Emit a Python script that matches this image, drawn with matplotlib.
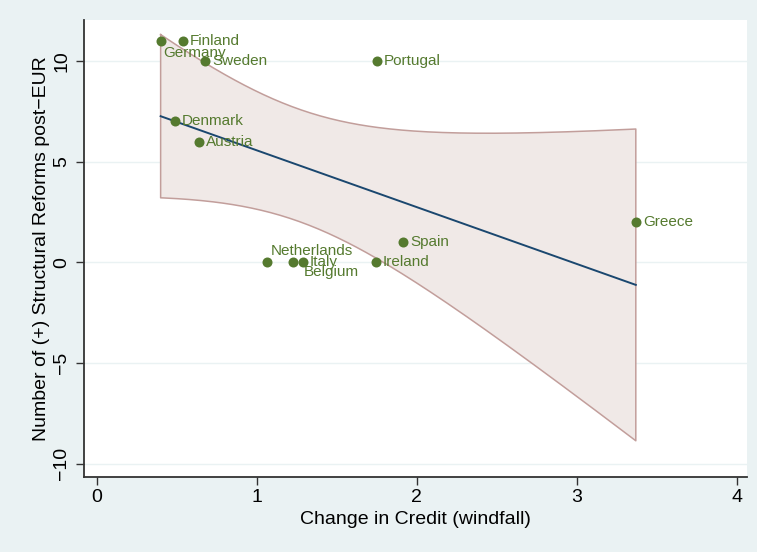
import numpy as np
import matplotlib
matplotlib.use('Agg')
import matplotlib.pyplot as plt

# countries, change in credit (windfall) and number of structural reforms post-EUR
countries = ['Germany', 'Finland', 'Sweden', 'Portugal', 'Denmark', 'Austria',
             'Greece', 'Spain', 'Netherlands', 'Belgium', 'Italy', 'Ireland']
credit = np.array([0.40, 0.54, 0.68, 1.75, 0.49, 0.64,
                   3.37, 1.915, 1.065, 1.23, 1.29, 1.745])
reforms = np.array([11, 11, 10, 10, 7, 6, 2, 1, 0, 0, 0, 0])

x_ticks = [0, 1, 2, 3, 4]
y_ticks = [-10, -5, 0, 5, 10]

# where each label sits relative to its marker (clock position, 3 = right)
label_pos = {'Germany': 4, 'Netherlands': 1, 'Belgium': 5}

bg = '#EAF2F3'
green = '#557A2F'
navy = '#1A476F'
band_fill = '#F0E9E7'
band_edge = '#C29E9B'
axis_font = ['Liberation Sans Narrow', 'Liberation Sans', 'DejaVu Sans']
label_font = ['Liberation Sans', 'DejaVu Sans']

# linear fit with 95% CI of the prediction (like Stata's lfitci)
n = len(credit)
mx = credit.mean()
sxx = ((credit - mx) ** 2).sum()
slope = ((credit - mx) * (reforms - reforms.mean())).sum() / sxx
icpt = reforms.mean() - slope * mx
resid = reforms - (icpt + slope * credit)
s = np.sqrt((resid ** 2).sum() / (n - 2))
t_crit = 2.228  # t(0.975, df=10)
xf = np.linspace(credit.min(), credit.max(), 200)
yf = icpt + slope * xf
half = t_crit * s * np.sqrt(1.0 / n + (xf - mx) ** 2 / sxx)

fig = plt.figure(figsize=(7.57, 5.52), dpi=100, facecolor=bg)
ax = fig.add_axes([84 / 757, 1 - 477 / 552, (747 - 84) / 757, (477 - 20) / 552])
ax.set_facecolor('white')

ax.set_xlim(-0.079, 4.065)
ax.set_ylim(-10.67, 12.04)

for yt in y_ticks:
    ax.axhline(yt, color=bg, lw=1.0, zorder=0)

ax.fill_between(xf, yf - half, yf + half, facecolor=band_fill, edgecolor='none', zorder=1)
band_x = np.concatenate([xf, xf[::-1], xf[:1]])
band_y = np.concatenate([yf + half, (yf - half)[::-1], (yf + half)[:1]])
ax.plot(band_x, band_y, color=band_edge, lw=1.1, zorder=2)
ax.plot(xf, yf, color=navy, lw=1.4, zorder=3)

ax.scatter(credit, reforms, s=52, color=green, zorder=4, linewidths=0)

offsets = {3: (7, 0, 'left', 'center'),
           4: (3, -12, 'left', 'center'),
           5: (10, -10, 'left', 'center'),
           1: (4, 11, 'left', 'center')}
for name, xv, yv in zip(countries, credit, reforms):
    dx, dy, ha, va = offsets[label_pos.get(name, 3)]
    ax.annotate(name, (xv, yv), xytext=(dx, dy), textcoords='offset pixels',
                ha=ha, va=va, color=green, fontsize=11, family=label_font, zorder=5)

for side in ['top', 'right']:
    ax.spines[side].set_visible(False)
for side in ['left', 'bottom']:
    ax.spines[side].set_color('#333333')
    ax.spines[side].set_linewidth(1.3)

ax.set_xticks(x_ticks)
ax.set_yticks(y_ticks)
ax.set_xticklabels([str(v) for v in x_ticks], family=axis_font, fontsize=14)
ax.set_yticklabels([str(v).replace('-', '\u2212') for v in y_ticks],
                   family=axis_font, fontsize=14, rotation=90, va='center')
ax.tick_params(axis='both', direction='out', length=6, width=1.0, color='#333333')
ax.tick_params(axis='x', pad=3)
ax.tick_params(axis='y', pad=4)

ax.set_xlabel('Change in Credit (windfall)', family=axis_font, fontsize=14, labelpad=3)
ax.set_ylabel('Number of (+) Structural Reforms post\u2212EUR', family=axis_font,
              fontsize=14, labelpad=2)

fig.savefig('out.png', dpi=100, facecolor=bg)
